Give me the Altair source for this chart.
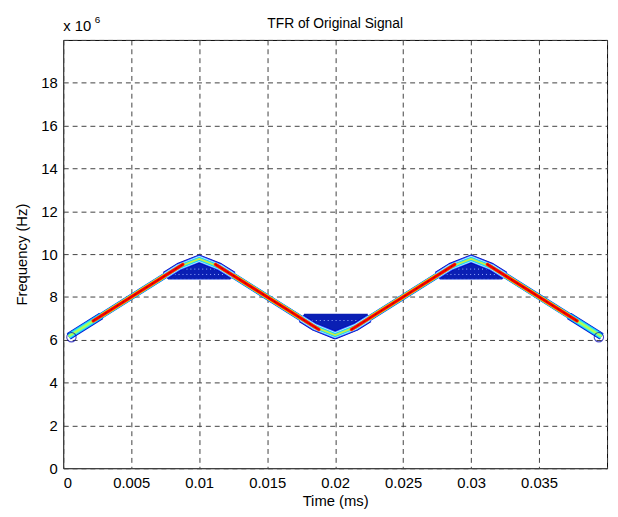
import altair as alt
import pandas as pd

FONT = "Liberation Sans"

# Ridge of the TFR (centre of the contour band), time in ms, frequency in Hz
ridge_t = [0.0004, 0.0085, 0.0100, 0.0115, 0.0185, 0.0200, 0.0215, 0.0285, 0.0300, 0.0315, 0.0396]
ridge_f = [6.16e6, 9.40e6, 9.78e6, 9.40e6, 6.60e6, 6.22e6, 6.60e6, 9.40e6, 9.78e6, 9.40e6, 6.16e6]

# Wider contour rings around the turning points
apex_t = [0.0075, 0.0085, 0.0100, 0.0115, 0.0125,
          0.0175, 0.0185, 0.0200, 0.0215, 0.0225,
          0.0275, 0.0285, 0.0300, 0.0315, 0.0325]
apex_f = [9.00e6, 9.40e6, 9.78e6, 9.40e6, 9.00e6,
          7.00e6, 6.60e6, 6.22e6, 6.60e6, 7.00e6,
          9.00e6, 9.40e6, 9.78e6, 9.40e6, 9.00e6]
apex_seg = [1] * 5 + [2] * 5 + [3] * 5

# Wider rings at both ends of the signal
end_t = [0.0004, 0.0028, 0.0372, 0.0396]
end_f = [6.16e6, 7.12e6, 7.12e6, 6.16e6]
end_seg = [1, 1, 2, 2]

# Peak-energy (red) parts of the ridge
red_t = [0.0022, 0.0088, 0.0112, 0.0188, 0.0212, 0.0288, 0.0312, 0.0378]
red_f = [6.88e6, 9.52e6, 9.52e6, 6.48e6, 6.48e6, 9.52e6, 9.52e6, 6.88e6]
red_seg = [1, 1, 2, 2, 3, 3, 4, 4]

# Interference blobs (low level contours) inside the turns
blob_t = [0.0077, 0.0100, 0.0123, 0.0177, 0.0200, 0.0224, 0.0277, 0.0300, 0.0323]
blob_lo = [8.82e6, 8.82e6, 8.82e6, 6.95e6, 6.35e6, 6.98e6, 8.82e6, 8.82e6, 8.82e6]
blob_hi = [9.10e6, 9.65e6, 9.10e6, 7.22e6, 7.22e6, 7.22e6, 9.10e6, 9.65e6, 9.10e6]
blob_id = [1, 1, 1, 2, 2, 2, 3, 3, 3]

# inner contour levels of the blobs
lvl_t = [0.0079, 0.0121, 0.0079, 0.0121, 0.0180, 0.0220, 0.0279, 0.0321, 0.0279, 0.0321]
lvl_f = [9.05e6, 9.05e6, 9.30e6, 9.30e6, 6.90e6, 6.90e6, 9.05e6, 9.05e6, 9.30e6, 9.30e6]
lvl_id = [1, 1, 2, 2, 3, 3, 4, 4, 5, 5]

# Closed loops at the two ends
loop_t = [0.0006, 0.0394]
loop_f = [6.12e6, 6.12e6]

x_ticks = [0, 0.005, 0.01, 0.015, 0.02, 0.025, 0.03, 0.035, 0.04]
y_ticks = [0, 2e6, 4e6, 6e6, 8e6, 10e6, 12e6, 14e6, 16e6, 18e6, 20e6]

ridge = pd.DataFrame({"t": ridge_t, "f": ridge_f})
apex = pd.DataFrame({"t": apex_t, "f": apex_f, "seg": apex_seg})
ends = pd.DataFrame({"t": end_t, "f": end_f, "seg": end_seg})
red = pd.DataFrame({"t": red_t, "f": red_f, "seg": red_seg})
blob = pd.DataFrame({"t": blob_t, "lo": blob_lo, "hi": blob_hi, "id": blob_id})
lvl = pd.DataFrame({"t": lvl_t, "f": lvl_f, "seg": lvl_id})
loops = pd.DataFrame({"t": loop_t, "f": loop_f})
one = pd.DataFrame({"k": [0]})

xs = alt.Scale(domain=[0, 0.04], nice=False, zero=False)
ys = alt.Scale(domain=[0, 2e7], nice=False)

X = alt.X("t:Q", scale=xs, title="Time (ms)",
          axis=alt.Axis(values=x_ticks, labelExpr="datum.value >= 0.04 ? '' : format(datum.value, '~g')"))
Y = alt.Y("f:Q", scale=ys, title="Frequency (Hz)",
          axis=alt.Axis(values=y_ticks, labelExpr="datum.value >= 20000000 ? '' : format(datum.value / 1000000, '~g')"))
Xn = alt.X("t:Q", scale=xs)
Yn = alt.Y("f:Q", scale=ys)

layers = []

# base layer carrying the axes
layers.append(alt.Chart(ridge).mark_line(opacity=0).encode(x=X, y=Y))

# blobs
layers.append(alt.Chart(blob).mark_area(color="#0a1fb4", clip=True).encode(
    x=Xn, y=alt.Y("lo:Q", scale=ys), y2="hi:Q", detail="id:N"))
layers.append(alt.Chart(blob).mark_line(color="#7a95ff", strokeWidth=1, strokeDash=[2, 2], clip=True).encode(
    x=Xn, y=alt.Y("lo:Q", scale=ys), detail="id:N"))
layers.append(alt.Chart(lvl).mark_line(color="#9fb4ff", strokeWidth=1, strokeDash=[1, 3], clip=True).encode(
    x=Xn, y=Yn, detail="seg:N"))


def band(df, color, width, detail=True, dash=None, cap="butt"):
    kw = dict(color=color, strokeWidth=width, strokeJoin="round", strokeCap=cap, clip=True)
    if dash:
        kw["strokeDash"] = dash
    enc = dict(x=Xn, y=Yn)
    if detail:
        enc["detail"] = "seg:N"
    return alt.Chart(df).mark_line(**kw).encode(**enc)


# main ridge band
layers.append(band(ridge, "#0030f0", 6.0, detail=False))
layers.append(band(ridge, "#00e0ff", 5.2, detail=False))
layers.append(band(ridge, "#ffe000", 4.4, detail=False))

# ends
layers.append(band(ends, "#0010d0", 7.5))
layers.append(band(ends, "#10b0ff", 6.0))
layers.append(band(ends, "#40f0e0", 4.4))
layers.append(band(ends, "#b0ff50", 2.2))

# turning points
layers.append(band(apex, "#0000b8", 8.5))
layers.append(band(apex, "#2a60ff", 7.2))
layers.append(band(apex, "#c8f2ff", 5.6))
layers.append(band(apex, "#18d0ff", 4.2))
layers.append(band(apex, "#c0f048", 2.0))

# red core
layers.append(band(red, "#ff7000", 3.6, cap="round"))
layers.append(band(red, "#f00000", 2.6, cap="round"))
layers.append(band(red, "#b00000", 1.0, dash=[2, 5]))

# loops at the ends
layers.append(alt.Chart(loops).mark_point(shape="circle", filled=False, size=90,
                                           color="#0000b0", strokeWidth=1.1, clip=True).encode(x=Xn, y=Yn))

# title and "x 10^6" exponent label
layers.append(alt.Chart(one).mark_text(text="TFR of Original Signal", align="center", baseline="alphabetic",
                                        font=FONT, fontSize=14, color="black").encode(
    x=alt.value(275.5), y=alt.value(-12)))
layers.append(alt.Chart(one).mark_text(text="x 10", align="left", baseline="alphabetic",
                                        font=FONT, fontSize=15, color="black").encode(
    x=alt.value(0), y=alt.value(-9)))
layers.append(alt.Chart(one).mark_text(text="6", align="left", baseline="alphabetic",
                                        font=FONT, fontSize=10, color="black").encode(
    x=alt.value(32), y=alt.value(-17)))

chart = alt.layer(*layers).properties(
    width=551, height=434,
    autosize=alt.AutoSizeParams(type="none"),
    padding={"left": 56, "top": 29, "right": 3, "bottom": 45},
).configure_view(
    stroke="black", strokeWidth=1
).configure_axis(
    grid=True, gridColor="#404040", gridDash=[5, 4], gridWidth=1, gridOpacity=1,
    domain=False, ticks=False,
    labelFont=FONT, labelFontSize=15, labelColor="black",
    titleFont=FONT, titleFontSize=15, titleFontWeight="normal", titleColor="black",
).configure_axisX(
    labelPadding=7, titlePadding=4
).configure_axisY(
    labelPadding=6, titlePadding=12
)

chart.save("out.html", embed_options={"renderer": "svg", "actions": False})
